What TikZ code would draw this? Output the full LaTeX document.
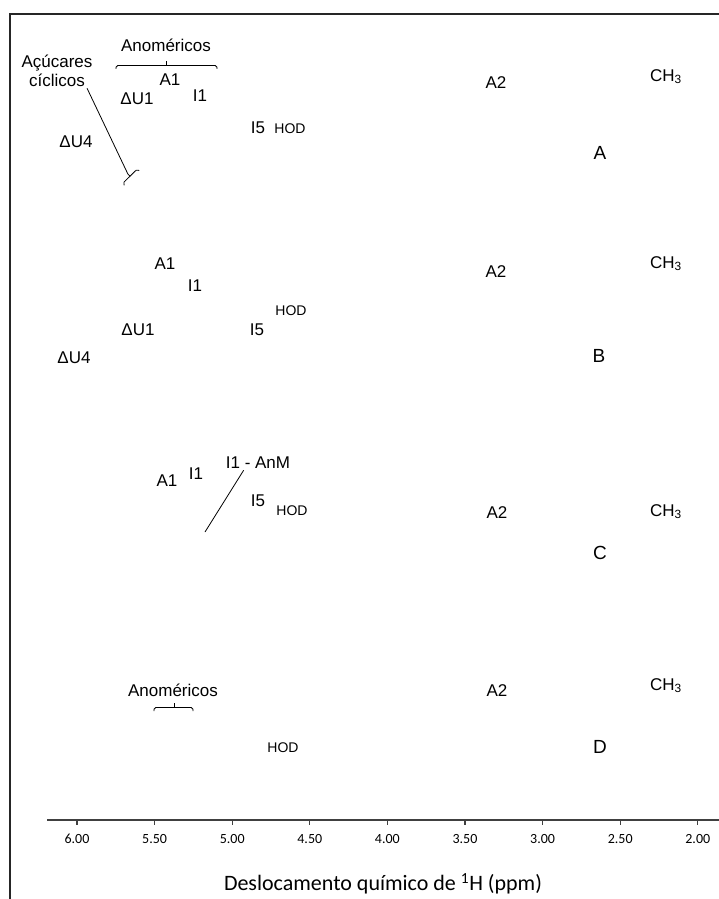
\documentclass[tikz,border=0pt]{standalone}
\usepackage{fontspec}
\setmainfont{Liberation Sans}
\newfontfamily\calibfont{Carlito}

\begin{document}
\begin{tikzpicture}[x = 1pt, y = 1pt,
  lbl/.style = {inner sep = 2pt, text height = 12.2pt, text depth = 0pt, font = \fontsize{17}{20}\selectfont},
  hod/.style = {inner sep = 2pt, text height = 10pt, text depth = 0pt, font = \fontsize{14}{16}\selectfont},
  panel/.style = {inner sep = 2pt, text height = 13.6pt, text depth = 0pt, font = \fontsize{19}{22}\selectfont},
  ticklbl/.style = {inner sep = 2pt, text height = 8.8pt, text depth = 0pt, font = \calibfont\fontsize{14}{16}\selectfont},
  brc/.style = {line width = .8pt, rounded corners = 1.8pt},
  axisline/.style = {line width = 1.3pt, black!75}]
\useasboundingbox (0,0) rectangle (719,-899);
\draw[line width = 1.3pt, black!85] (719,-14) -- (10,-14) -- (10,-899);

% A
\node[lbl] (anomA) at (166,-45) {Anoméricos};
\draw[brc] (116,-69) -- (116,-65.5) -- (217,-65.5) -- (217,-69);
\draw[brc] (166.5,-65.5) -- (166.5,-61);
\node[lbl] (acu) at (57,-61) {Açúcares};
\node[lbl] (cic) at (57,-80) {cíclicos};
\begin{scope}[shift = {(130,-176.2)}, rotate = 44.4]
  \draw[brc] (-10.3,-2.5) -- (-10.3,0) -- (10.3,0) -- (10.3,-2.5);
  \draw[brc] (0,0) -- (0,3);
  \coordinate (cicEnd) at (0,3);
\end{scope}
\draw[line width = .8pt] (cic.south east) -- (cicEnd);
\node[lbl] (a1A) at (170,-79) {A1};
\node[lbl] (du1A) at (137,-98) {ΔU1};
\node[lbl] (i1A) at (200,-95) {I1};
\node[lbl] (i5A) at (258,-127) {I5};
\node[hod] (hodA) at (290,-128) {HOD};
\node[lbl] (du4A) at (76,-141) {ΔU4};
\node[lbl] (a2A) at (496,-82) {A2};
\node[lbl] (ch3A) at (666,-75) {CH\textsubscript{3}};
\node[panel] (pA) at (600,-153) {A};

% B
\node[lbl] (a1B) at (165,-263) {A1};
\node[lbl] (i1B) at (195,-285) {I1};
\node[hod] (hodB) at (291,-310) {HOD};
\node[lbl] (du1B) at (138,-329) {ΔU1};
\node[lbl] (i5B) at (257,-329) {I5};
\node[lbl] (du4B) at (74,-357) {ΔU4};
\node[lbl] (a2B) at (496,-271) {A2};
\node[lbl] (ch3B) at (666,-262) {CH\textsubscript{3}};
\node[panel] (pB) at (599,-356) {B};

% C
\node[lbl] (a1C) at (167,-480) {A1};
\node[lbl] (i1C) at (196,-473) {I1};
\node[lbl] (anm) at (258,-462) {I1 - AnM};
\coordinate (anmEnd) at (205,-532);
\draw[line width = .8pt] (anm.-150) -- (anmEnd);
\node[lbl] (i5C) at (258,-500) {I5};
\node[hod] (hodC) at (292,-510) {HOD};
\node[lbl] (a2C) at (497,-512) {A2};
\node[lbl] (ch3C) at (666,-510) {CH\textsubscript{3}};
\node[panel] (pC) at (600,-553) {C};

% D
\node[lbl] (anomD) at (173,-690) {Anoméricos};
\draw[brc] (154,-711) -- (154,-707.5) -- (193,-707.5) -- (193,-711);
\draw[brc] (174,-707.5) -- (174,-703);
\node[hod] (hodD) at (283,-747) {HOD};
\node[lbl] (a2D) at (497,-690) {A2};
\node[lbl] (ch3D) at (666,-684) {CH\textsubscript{3}};
\node[panel] (pD) at (600,-747) {D};

% eixo
\draw[axisline] (47,-820) -- (719,-820);
\foreach \v [count = \i from 0] in {6.00,5.50,5.00,4.50,4.00,3.50,3.00,2.50,2.00} {
  \draw[axisline] (77+\i*77.6,-820) -- ++(0,-5);
  \node[ticklbl] (t\i) at (77+\i*77.6,-839) {\v};
}
\node[inner sep = 2pt, font = \calibfont\fontsize{22}{25}\selectfont] (xlab) at (383,-884) {Deslocamento químico de \textsuperscript{1}H (ppm)};
\end{tikzpicture}
\end{document}
